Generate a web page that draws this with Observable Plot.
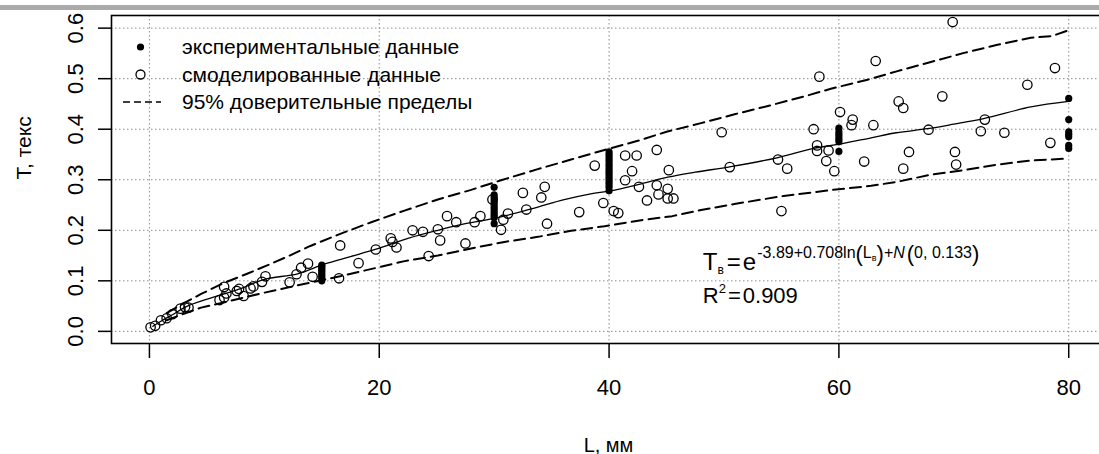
<!DOCTYPE html>
<html>
<head>
<meta charset="utf-8">
<script src="https://cdn.jsdelivr.net/npm/d3@7"></script>
<script src="https://cdn.jsdelivr.net/npm/@observablehq/plot@0.6"></script>
<style>
  html, body { margin: 0; padding: 0; background: #fff; overflow: hidden; width: 1099px; height: 454px; }
  #wrap { position: relative; width: 1105px; height: 454px; }
  #topbar { position: absolute; left: 0; top: 5px; width: 1105px; height: 5px; background: #aaaaaa; z-index: 2; }
  svg { display: block; }
</style>
</head>
<body>
<div id="wrap"><div id="topbar"></div></div>
<script>
// ---- Data ----
// experimental data (filled dots)
const expL = [15,15,15,15,15,15,15,15,15,
  30,30,30,30,30,30,30,30,30,30,30,30,
  40,40,40,40,40,40,40,40,40,40,40,40,40,40,40,40,
  60,60,60,60,60,60,60,
  80,80,80,80,80,80,80];
const expT = [0.100,0.104,0.108,0.112,0.116,0.120,0.124,0.128,0.131,
  0.285,0.270,0.265,0.260,0.255,0.250,0.245,0.240,0.235,0.230,0.225,0.213,
  0.355,0.350,0.345,0.340,0.335,0.330,0.325,0.320,0.315,0.310,0.305,0.300,0.295,0.290,0.285,0.278,
  0.402,0.395,0.390,0.385,0.380,0.375,0.356,
  0.461,0.419,0.395,0.390,0.385,0.368,0.362];

// simulated data (open circles)
const simL = [0.1,0.5,1.0,1.5,2.0,2.7,3.1,3.4,6.1,6.5,6.5,6.7,7.6,7.8,8.2,8.8,9.05,9.8,10.1,12.2,12.8,13.2,13.8,14.2,16.5,16.6,18.2,19.7,
  21.0,21.15,21.5,22.9,23.8,24.3,25.1,25.3,25.9,26.7,27.5,28.3,28.8,29.85,30.6,30.8,31.2,32.5,32.8,34.1,34.4,34.6,37.4,38.75,39.5,40.4,40.8,41.4,42.4,42.0,41.4,42.6,
  44.15,45.2,43.3,44.15,44.3,45.1,45.1,45.6,49.8,50.5,54.7,55.5,55.0,58.3,57.8,58.1,58.1,59.1,58.9,59.6,60.1,61.2,61.1,62.2,
  69.9,63.2,78.8,76.4,69.0,65.2,65.6,63.0,67.8,72.7,72.35,74.4,78.4,66.1,70.1,70.2,65.6];
const simT = [0.008,0.011,0.022,0.026,0.034,0.045,0.048,0.047,0.062,0.067,0.088,0.075,0.080,0.084,0.070,0.085,0.089,0.098,0.109,0.097,0.113,0.126,0.134,0.108,0.105,0.170,0.135,0.162,
  0.184,0.177,0.166,0.200,0.197,0.149,0.202,0.180,0.228,0.216,0.174,0.216,0.228,0.261,0.201,0.221,0.233,0.274,0.241,0.265,0.286,0.213,0.236,0.328,0.254,0.238,0.234,0.348,0.348,0.317,0.299,0.286,
  0.359,0.319,0.259,0.289,0.271,0.282,0.263,0.263,0.394,0.325,0.340,0.322,0.238,0.504,0.400,0.368,0.357,0.358,0.337,0.317,0.434,0.419,0.408,0.336,
  0.612,0.535,0.521,0.488,0.465,0.455,0.442,0.408,0.399,0.419,0.396,0.393,0.373,0.355,0.355,0.330,0.322];

// fitted curve (solid)
const fitL = [0.3,1,2,3.3,6.2,8,10,12.9,15.2,17.5,19.8,22.5,25.1,27.5,30.3,33.8,36,38.4,40.1,42.8,45.1,47.5,50.6,54.7,57.8,60.2,62.8,65,67.7,70,72.6,76.7,80];
const fitT = [0.010,0.020,0.033,0.050,0.072,0.085,0.103,0.114,0.133,0.148,0.163,0.184,0.200,0.213,0.225,0.246,0.260,0.272,0.278,0.292,0.305,0.315,0.326,0.344,0.362,0.371,0.383,0.393,0.401,0.410,0.421,0.444,0.455];

// 95% limits (dashed)
const upL = [1.5,3,4.5,6.4,8.5,10.3,12.2,14,16.5,19.3,22.2,25.1,28,30.6,33.8,36.7,39.6,42.5,45,48,51,54,57,59.3,62.5,65.1,68,70.9,73.8,76.7,78.5,80];
const upT = [0.036,0.056,0.074,0.095,0.114,0.131,0.150,0.169,0.192,0.216,0.239,0.261,0.280,0.299,0.321,0.340,0.359,0.377,0.395,0.412,0.430,0.447,0.465,0.480,0.498,0.515,0.533,0.551,0.567,0.581,0.584,0.596];
const loL = [1.5,3,4.5,6.8,9.7,12.9,16.4,19.8,22.2,25.1,28,30.9,33.8,36.7,39.6,42.8,45.5,48,50.9,55.2,59.5,62.8,65.1,68,70.9,73.8,76.7,80];
const loT = [0.022,0.035,0.047,0.059,0.075,0.091,0.108,0.126,0.139,0.150,0.164,0.177,0.187,0.199,0.208,0.220,0.228,0.240,0.252,0.268,0.280,0.288,0.296,0.310,0.319,0.330,0.338,0.342];

const xTicks = [0, 20, 40, 60, 80];
const yTicks = [0, 0.1, 0.2, 0.3, 0.4, 0.5, 0.6];
const xLabel = "L, мм";
const yLabel = "T, текс";
const legendLabels = ["экспериментальные данные", "смоделированные данные", "95% доверительные пределы"];

// ---- tables for Plot ----
const expData = expL.map((L, i) => ({L, T: expT[i]}));
const simData = simL.map((L, i) => ({L, T: simT[i]}));
const fitData = fitL.map((L, i) => ({L, T: fitT[i]}));
const upData = upL.map((L, i) => ({L, T: upT[i]}));
const loData = loL.map((L, i) => ({L, T: loT[i]}));

const FONT = "'Liberation Sans', Arial, Helvetica, sans-serif";
const grid = {stroke: "#8c8c8c", strokeOpacity: 1, strokeWidth: 1, strokeDasharray: "1.5,2.5"};

const plot = Plot.plot({
  width: 1105,
  height: 454,
  marginLeft: 111,
  marginRight: 0,
  marginTop: 15,
  marginBottom: 111,
  style: {fontFamily: FONT, color: "black", background: "transparent"},
  x: {domain: [-3.3, 83.2], label: null},
  y: {domain: [-0.024, 0.625], label: null},
  marks: [
    Plot.gridX(xTicks, grid),
    Plot.gridY(yTicks, grid),
    Plot.axisX(xTicks, {tickSize: 15, tickPadding: 21, fontSize: 22, strokeWidth: 1.5, label: null}),
    Plot.axisY(yTicks, {tickSize: 13, tickPadding: 16, tickRotate: -90, fontSize: 22, strokeWidth: 1.5, tickFormat: d3.format(".1f"), label: null}),
    Plot.line(upData, {x: "L", y: "T", stroke: "black", strokeWidth: 2, strokeDasharray: "11,6"}),
    Plot.line(loData, {x: "L", y: "T", stroke: "black", strokeWidth: 2, strokeDasharray: "11,6"}),
    Plot.line(fitData, {x: "L", y: "T", stroke: "black", strokeWidth: 1.3, curve: "catmull-rom"}),
    Plot.dot(simData, {x: "L", y: "T", r: 4.7, stroke: "black", strokeWidth: 1.3, fill: "none"}),
    Plot.dot(expData, {x: "L", y: "T", r: 3.6, fill: "black", stroke: "none"}),
    Plot.frame({stroke: "black", strokeWidth: 1.6}),
    Plot.text([xLabel], {frameAnchor: "bottom", dy: 108, text: d => d, fontSize: 20, lineAnchor: "bottom", fill: "black"}),
    Plot.text([yLabel], {frameAnchor: "left", dx: -87, rotate: -90, text: d => d, fontSize: 21, lineAnchor: "middle", fill: "black"})
  ]
});

document.getElementById("wrap").appendChild(plot);

// ---- legend & annotation (positioned from the plot's scales) ----
const svg = d3.select(plot);
const sx = plot.scale("x"), sy = plot.scale("y");
const frameLeft = sx.apply(-3.3), frameTop = sy.apply(0.625);

const lg = svg.append("g").attr("font-family", FONT).attr("font-size", 21).attr("fill", "black").attr("text-anchor", "start");
const rowY = [32, 59.5, 87];
lg.append("circle").attr("cx", frameLeft + 29.5).attr("cy", frameTop + rowY[0]).attr("r", 3.6).attr("fill", "black");
lg.append("circle").attr("cx", frameLeft + 29.5).attr("cy", frameTop + rowY[1]).attr("r", 4.5).attr("fill", "none").attr("stroke", "black").attr("stroke-width", 1.3);
lg.append("line").attr("x1", frameLeft + 12).attr("x2", frameLeft + 50).attr("y1", frameTop + rowY[2]).attr("y2", frameTop + rowY[2])
  .attr("stroke", "black").attr("stroke-width", 1.5).attr("stroke-dasharray", "7,4");
legendLabels.forEach((t, i) => {
  lg.append("text").attr("x", frameLeft + 71).attr("y", frameTop + rowY[i]).attr("dy", "0.35em").text(t);
});

// formula
const fx0 = sx.apply(48.2), fy0 = sy.apply(0.121);
const f = svg.append("text").attr("x", fx0).attr("y", fy0).attr("font-family", FONT).attr("font-size", 24).attr("fill", "black").attr("text-anchor", "start");
f.append("tspan").text("T");
f.append("tspan").attr("font-size", 12).attr("dy", 4).text("в");
f.append("tspan").attr("dy", -4).attr("dx", 3).text("=");
f.append("tspan").attr("dx", 2).text("e");
f.append("tspan").attr("font-size", 16).attr("dy", -12).attr("dx", 1).text("-3.89+0.708ln");
f.append("tspan").attr("font-size", 22).attr("dy", 3).text("(");
f.append("tspan").attr("font-size", 16).attr("dy", -3).text("L");
f.append("tspan").attr("font-size", 9).attr("dy", 3).text("в");
f.append("tspan").attr("font-size", 22).text(")");
f.append("tspan").attr("font-size", 16).attr("dy", -3).text("+");
f.append("tspan").attr("font-size", 16).attr("font-style", "italic").text("N");
f.append("tspan").attr("font-size", 22).attr("dy", 3).attr("dx", 2).text("(");
f.append("tspan").attr("font-size", 16).attr("dy", -3).text("0, 0.133");
f.append("tspan").attr("font-size", 22).attr("dy", 3).text(")");

const r2 = svg.append("text").attr("x", fx0).attr("y", fy0 + 33).attr("font-family", FONT).attr("font-size", 22).attr("fill", "black").attr("text-anchor", "start");
r2.append("tspan").text("R");
r2.append("tspan").attr("font-size", 13).attr("dy", -10).text("2");
r2.append("tspan").attr("dy", 10).attr("dx", 2).text("=");
r2.append("tspan").attr("dx", 2).text("0.909");
</script>
</body>
</html>
